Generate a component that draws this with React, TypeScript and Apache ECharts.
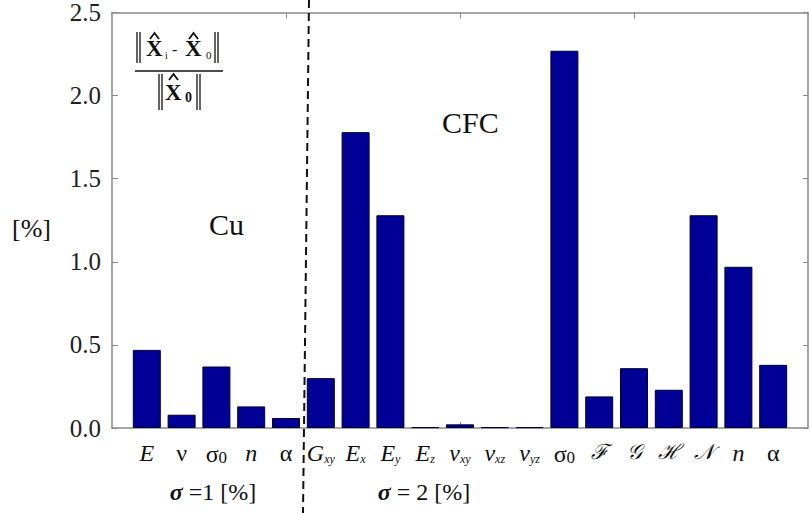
import React, { useEffect, useRef } from "react";
import * as echarts from "echarts";

// category labels (rich text markup for ECharts)
const categoryLabels = [
  "{i|E}", "{u|ν}", "{u|σ}{s0|0}", "{i|n}", "{u|α}",
  "{i|G}{si|xy}", "{i|E}{si|x}", "{i|E}{si|y}", "{i|E}{si|z}",
  "{i|ν}{si|xy}", "{i|ν}{si|xz}", "{i|ν}{si|yz}", "{u|σ}{s0|0}",
  "{c|ℱ}", "{c|𝒢}", "{c|ℋ}", "{c|𝒩}", "{i|n}", "{u|α}",
];
// relative error values [%]
const errorValues = [
  0.47, 0.08, 0.37, 0.13, 0.06,
  0.30, 1.78, 1.28, 0.005, 0.022, 0.005, 0.005, 2.27,
  0.19, 0.36, 0.23, 1.28, 0.97, 0.38,
];
const yTicks = [0, 0.5, 1.0, 1.5, 2.0, 2.5];
const boxTicks = [4, 9, 14];

const SERIF = "Liberation Serif";
const AXIS = "#8a8a8a";

export default function App() {
  const ref = useRef<HTMLDivElement>(null);
  useEffect(() => {
    document.body.style.margin = "0";
    const chart = echarts.init(ref.current!, null, { renderer: "svg" });
    const labelRich = {
      i: { fontFamily: SERIF, fontStyle: "italic", fontSize: 24, color: "#111" },
      u: { fontFamily: SERIF, fontSize: 24, color: "#111" },
      s0: { fontFamily: SERIF, fontSize: 17, color: "#111", verticalAlign: "bottom", padding: [8, 0, 0, 0] },
      si: { fontFamily: SERIF, fontStyle: "italic", fontSize: 12, color: "#111", verticalAlign: "bottom", padding: [10, 0, 0, 0] },
      c: { fontFamily: "DejaVu Serif", fontStyle: "italic", fontSize: 21, color: "#111" },
    };
    const hat = (x: number, y: number) => ({
      type: "polyline",
      shape: { points: [[x, y + 6], [x + 4.5, y], [x + 9, y + 6]] },
      style: { stroke: "#111", lineWidth: 1.8, fill: null },
    });
    const vline = (x: number, y1: number, y2: number) => ({
      type: "line",
      shape: { x1: x, y1, x2: x, y2 },
      style: { stroke: "#111", lineWidth: 1.3 },
    });
    const txt = (x: number, y: number, text: string, size: number, weight = "normal") => ({
      type: "text",
      x, y,
      style: { text, fontFamily: SERIF, fontSize: size, fontWeight: weight, fill: "#111", align: "left", verticalAlign: "bottom" },
    });
    const bottomRich = {
      a: { fontFamily: SERIF, fontStyle: "italic", fontWeight: "bold", fontSize: 24, fill: "#111" },
      b: { fontFamily: SERIF, fontSize: 24, fill: "#111" },
    };
    chart.setOption({
      animation: false,
      textStyle: { fontFamily: SERIF },
      grid: { left: 112, right: 2, top: 11, bottom: 85 },
      xAxis: [
        {
          type: "value", min: -1, max: 19, position: "bottom",
          splitLine: { show: false },
          axisLine: { onZero: false, lineStyle: { color: AXIS, width: 1.5 } },
          axisTick: { inside: true, length: 6, customValues: boxTicks, lineStyle: { color: AXIS } },
          axisLabel: {
            customValues: categoryLabels.map((_, i) => i),
            formatter: (v: number) => categoryLabels[Math.round(v)] ?? "",
            margin: 13, rich: labelRich,
          },
        },
        {
          type: "value", min: -1, max: 19, position: "top",
          splitLine: { show: false },
          axisLine: { onZero: false, lineStyle: { color: AXIS, width: 1.5 } },
          axisTick: { inside: true, length: 6, customValues: boxTicks, lineStyle: { color: AXIS } },
          axisLabel: { show: false },
        },
      ],
      yAxis: [
        {
          type: "value", min: 0, max: 2.5, interval: 0.5, position: "left",
          splitLine: { show: false },
          axisLine: { show: true, onZero: false, lineStyle: { color: AXIS, width: 1.5 } },
          axisTick: { show: true, inside: true, length: 6, lineStyle: { color: AXIS } },
          axisLabel: {
            customValues: yTicks,
            formatter: (v: number) => v.toFixed(1),
            fontFamily: SERIF, fontSize: 25, color: "#222", margin: 11,
          },
        },
        {
          type: "value", min: 0, max: 2.5, interval: 0.5, position: "right",
          splitLine: { show: false },
          axisLine: { show: true, onZero: false, lineStyle: { color: AXIS, width: 1.5 } },
          axisTick: { show: true, inside: true, length: 5, lineStyle: { color: AXIS } },
          axisLabel: { show: false },
        },
      ],
      series: [
        {
          type: "bar",
          xAxisIndex: 0, yAxisIndex: 0,
          barWidth: 28,
          data: errorValues.map((v, i) => [i, v]),
          itemStyle: { color: "#000096", borderColor: "#000033", borderWidth: 1 },
        },
      ],
      graphic: [
        // dashed separator
        {
          type: "line",
          shape: { x1: 309, y1: 0, x2: 303, y2: 513 },
          style: { stroke: "#111", lineWidth: 2, lineDash: [8, 5] },
          z: 100,
        },
        // formula ||X_i - X_0|| / ||X_0||
        vline(137, 32, 63), vline(140, 32, 63),
        vline(215, 32, 63), vline(218, 32, 63),
        { type: "line", shape: { x1: 135, y1: 71, x2: 223, y2: 71 }, style: { stroke: "#111", lineWidth: 1.5 } },
        vline(159, 74, 110), vline(162, 74, 110),
        vline(197, 74, 110), vline(200, 74, 110),
        txt(146, 60, "X", 23, "bold"),
        hat(150, 33),
        txt(165, 60, "i", 10),
        txt(172, 57, "-", 16),
        txt(185, 60, "X", 23, "bold"),
        hat(189, 33),
        txt(206, 60, "0", 11),
        txt(165, 104, "X", 23, "bold"),
        hat(169, 74),
        txt(185, 104, "0", 14, "bold"),
        // texts
        txt(12, 241, "[%]", 26),
        txt(209, 239, "Cu", 30),
        txt(442, 137, "CFC", 30),
        {
          type: "text", x: 213, y: 492,
          style: { text: "{a|σ}{b| =1 [%]}", align: "center", verticalAlign: "middle", rich: bottomRich },
        },
        {
          type: "text", x: 424, y: 492,
          style: { text: "{a|σ}{b| = 2 [%]}", align: "center", verticalAlign: "middle", rich: bottomRich },
        },
      ],
    });
    return () => chart.dispose();
  }, []);
  return <div ref={ref} style={{ width: 810, height: 513 }} />;
}
